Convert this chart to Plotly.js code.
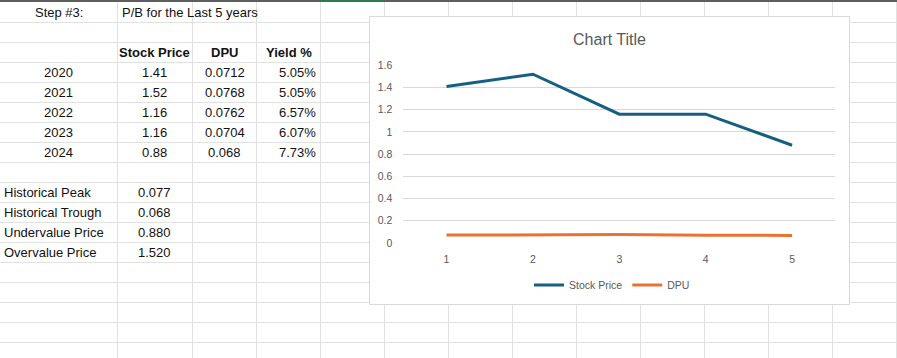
<!DOCTYPE html>
<html>
<head>
<meta charset="utf-8">
<script src="https://cdn.plot.ly/plotly-3.0.1.min.js"></script>
<style>
  html, body { margin: 0; padding: 0; background: #ffffff; }
  #chart { width: 897px; height: 358px; }
</style>
</head>
<body>
<div id="chart"></div>
<script>
// ---------------- DATA ----------------
const sheetStep = "Step #3:";
const sheetHeading = "P/B for the Last 5 years";
const tableHeaders = ["Stock Price", "DPU", "Yield %"];
const years = ["2020", "2021", "2022", "2023", "2024"];
const stockPrice = [1.41, 1.52, 1.16, 1.16, 0.88];
const dpu = [0.0712, 0.0768, 0.0762, 0.0704, 0.068];
const dpuText = ["0.0712", "0.0768", "0.0762", "0.0704", "0.068"];
const yieldPct = ["5.05%", "5.05%", "6.57%", "6.07%", "7.73%"];
const summaryLabels = ["Historical Peak", "Historical Trough", "Undervalue Price", "Overvalue Price"];
const summaryValues = ["0.077", "0.068", "0.880", "1.520"];
const xCategories = ["1", "2", "3", "4", "5"];
const seriesNames = ["Stock Price", "DPU"];
const chartTitle = "Chart Title";

// ---------------- LAYOUT HELPERS ----------------
const W = 897, H = 358;
const px = x => x / W;
const py = y => 1 - y / H;
const FONT = "Liberation Sans, Arial, sans-serif";

const colEdges = [117, 192, 256, 320, 384, 448, 512, 576, 640, 704, 768, 832, 896];
const rowEdges = [];
for (let y = 22; y <= 342; y += 20) rowEdges.push(y);
const rowCenter = r => 2 + 20 * r + 10.5; // r = 0-based row index

const shapes = [];
const gridColor = "#E1E1E1";
rowEdges.forEach(y => shapes.push({type: "line", xref: "paper", yref: "paper", layer: "below",
  x0: 0, x1: 1, y0: py(y + 0.5), y1: py(y + 0.5), line: {color: gridColor, width: 1}}));
colEdges.forEach(x => shapes.push({type: "line", xref: "paper", yref: "paper", layer: "below",
  x0: px(x + 0.5), x1: px(x + 0.5), y0: py(2), y1: 0, line: {color: gridColor, width: 1}}));
// top dark header edge with selected column highlight
shapes.push({type: "rect", xref: "paper", yref: "paper", layer: "below",
  x0: 0, x1: 1, y0: py(2), y1: 1, fillcolor: "#5E5E5E", line: {width: 0}});
shapes.push({type: "rect", xref: "paper", yref: "paper", layer: "below",
  x0: px(320), x1: px(384), y0: py(2), y1: 1, fillcolor: "#2F7A4E", line: {width: 0}});
// chart area box
shapes.push({type: "rect", xref: "paper", yref: "paper", layer: "below",
  x0: px(369.5), x1: px(849.5), y0: py(304.5), y1: py(16.5),
  fillcolor: "#FFFFFF", line: {color: "#D9D9D9", width: 1}});

// ---------------- CELL TEXT ----------------
const annotations = [];
const cell = (text, x, row, anchor, bold) => annotations.push({
  text: bold ? "<b>" + text + "</b>" : text, xref: "paper", yref: "paper",
  x: px(x), y: py(rowCenter(row)), xanchor: anchor, yanchor: "middle", showarrow: false,
  font: {family: FONT, size: 13, color: "#111111"}
});
cell(sheetStep, 58.5, 0, "center");
cell(sheetHeading, 120, 0, "left");
cell(tableHeaders[0], 154.5, 2, "center", true);
cell(tableHeaders[1], 224.5, 2, "center", true);
cell(tableHeaders[2], 288.5, 2, "center", true);
years.forEach((yr, i) => {
  cell(yr, 58.5, 3 + i, "center");
  cell(stockPrice[i].toFixed(2), 154.5, 3 + i, "center");
  cell(dpuText[i], 224.5, 3 + i, "center");
  cell(yieldPct[i], 318, 3 + i, "right");
});
summaryLabels.forEach((lab, i) => {
  cell(lab, 1.5, 9 + i, "left");
  cell(summaryValues[i], 154.5, 9 + i, "center");
});

// ---------------- CHART ----------------
const traces = [
  {type: "scatter", mode: "lines", name: seriesNames[0], x: xCategories, y: stockPrice,
   line: {color: "#156082", width: 3}, hoverinfo: "skip"},
  {type: "scatter", mode: "lines", name: seriesNames[1], x: xCategories, y: dpu,
   line: {color: "#E97132", width: 3}, hoverinfo: "skip"}
];

const layout = {
  width: W, height: H,
  margin: {l: 0, r: 0, t: 0, b: 0, pad: 0},
  paper_bgcolor: "#FFFFFF",
  plot_bgcolor: "rgba(0,0,0,0)",
  font: {family: FONT, color: "#595959"},
  title: {text: chartTitle, x: px(609.5), xanchor: "center", y: py(39.5), yanchor: "middle",
    font: {family: FONT, size: 16, color: "#595959"}},
  xaxis: {type: "category", domain: [px(403.3), px(835.3)], range: [-0.5, 4.5],
    showgrid: false, zeroline: false, showline: false, ticks: "",
    tickfont: {family: FONT, size: 10.5, color: "#595959"}, ticklabelstandoff: 8, fixedrange: true},
  yaxis: {domain: [py(243), py(65.3)], range: [0, 1.6], tick0: 0, dtick: 0.2,
    showgrid: true, gridcolor: "#D9D9D9", gridwidth: 1, zeroline: false, showline: false, ticks: "",
    tickfont: {family: FONT, size: 10.5, color: "#595959"}, ticklabelstandoff: 10, fixedrange: true},
  showlegend: true,
  legend: {orientation: "h", x: px(612), xanchor: "center", y: py(285), yanchor: "middle",
    font: {family: FONT, size: 10.5, color: "#595959"}, bgcolor: "rgba(0,0,0,0)",
    itemwidth: 30, tracegroupgap: 0},
  shapes: shapes,
  annotations: annotations
};

Plotly.newPlot("chart", traces, layout, {displayModeBar: false, staticPlot: true});
</script>
</body>
</html>
